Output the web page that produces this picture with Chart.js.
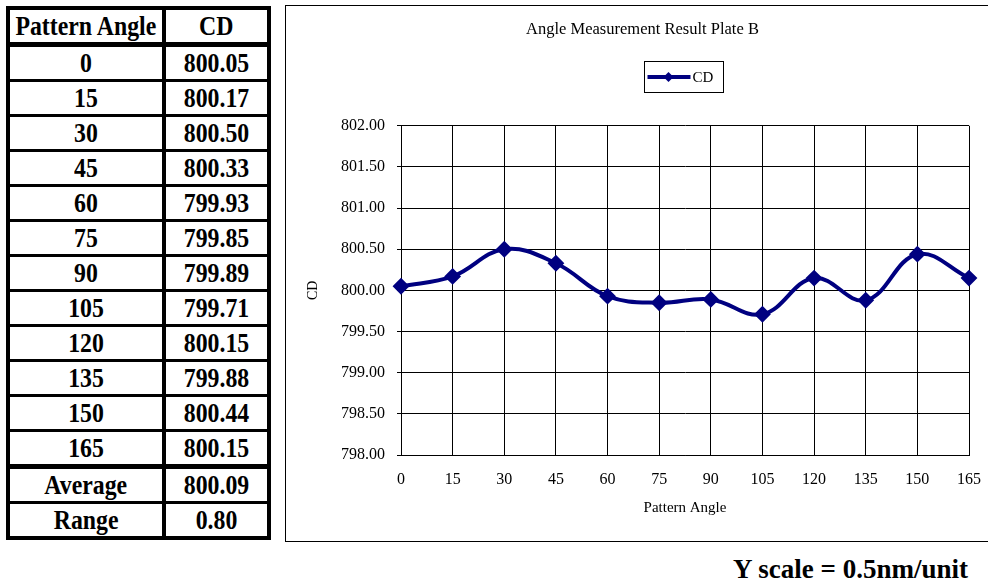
<!DOCTYPE html>
<html>
<head>
<meta charset="utf-8">
<script src="https://cdn.jsdelivr.net/npm/chart.js@4"></script>
<style>
  html, body { margin:0; padding:0; background:#fff; }
  body { width:988px; height:582px; overflow:hidden; position:relative; font-family:'Liberation Serif', 'Times New Roman', serif; }
  #tbl { position:absolute; left:6px; top:6px; border-collapse:collapse; border:4px solid #000; }
  #tbl td { border:3px solid #000; padding:0; height:32px; text-align:center; white-space:nowrap;
            font-family:'Liberation Serif', serif; font-weight:bold; font-size:28px; line-height:30px; }
  #tbl td.c1 { width:152px; border-right:4px solid #000; }
  #tbl td.c2 { width:101px; }
  #tbl tr.thick td { border-bottom:5px solid #000; }
  #tbl span { display:inline-block; transform:scaleX(0.85); margin:0 -16px; }
  #box { position:absolute; left:285px; top:5px; width:720px; height:535px; border:1px solid #000; }
  #wrap { position:absolute; left:286px; top:6px; width:714px; height:534px; }
  #note { position:absolute; right:20px; top:554px; font-family:'Liberation Serif', serif; font-weight:bold; font-size:27px; }
</style>
</head>
<body>
<table id="tbl"></table>
<div id="box"></div>
<div id="wrap"><canvas id="c"></canvas></div>
<div id="note">Y scale = 0.5nm/unit</div>
<script>
// data
const angles = [0, 15, 30, 45, 60, 75, 90, 105, 120, 135, 150, 165];
const cdValues = [800.05, 800.17, 800.50, 800.33, 799.93, 799.85, 799.89, 799.71, 800.15, 799.88, 800.44, 800.15];
const averageText = '800.09';
const rangeText = '0.80';
const yMin = 798, yMax = 802, yStep = 0.5;

// table on the left
const rows = [['Pattern Angle', 'CD', true]]
  .concat(angles.map((a, i) => [String(a), cdValues[i].toFixed(2), i === angles.length - 1]))
  .concat([['Average', averageText, false], ['Range', rangeText, false]]);
document.getElementById('tbl').innerHTML = rows.map(r =>
  `<tr${r[2] ? ' class="thick"' : ''}><td class="c1"><span>${r[0]}</span></td><td class="c2"><span>${r[1]}</span></td></tr>`
).join('');

const navy = '#000080';

// boxed legend above the plot: line + diamond, then label
const boxedLegend = {
  id: 'boxedLegend',
  afterDraw(chart) {
    const ctx = chart.ctx, a = chart.chartArea;
    const bw = 79, bh = 31;
    const x = Math.round((a.left + a.right) / 2 - 2 - bw / 2) + 0.5, y = 55.5;
    const cy = y + bh / 2;
    ctx.save();
    ctx.strokeStyle = '#000'; ctx.lineWidth = 1;
    ctx.strokeRect(x, y, bw, bh);
    ctx.strokeStyle = navy; ctx.lineWidth = 4;
    ctx.beginPath(); ctx.moveTo(x + 3, cy); ctx.lineTo(x + 46, cy); ctx.stroke();
    ctx.fillStyle = navy;
    const dx = x + 24;
    ctx.beginPath(); ctx.moveTo(dx, cy - 5); ctx.lineTo(dx + 5, cy); ctx.lineTo(dx, cy + 5); ctx.lineTo(dx - 5, cy); ctx.closePath(); ctx.fill();
    ctx.fillStyle = '#000';
    ctx.font = "15px 'Liberation Serif', serif";
    ctx.textBaseline = 'middle';
    ctx.fillText(chart.data.datasets[0].label, x + 48, cy + 1);
    ctx.restore();
  }
};

Chart.defaults.font.family = "'Liberation Serif', serif";
Chart.defaults.color = '#000';

new Chart(document.getElementById('c'), {
  type: 'line',
  data: {
    labels: angles.map(String),
    datasets: [{
      label: 'CD',
      data: cdValues,
      borderColor: navy,
      backgroundColor: navy,
      borderWidth: 4,
      tension: 0.4,
      pointStyle: 'rectRot',
      pointRadius: 7,
      pointBorderWidth: 2,
      pointBackgroundColor: navy,
      pointBorderColor: navy,
      clip: false
    }]
  },
  options: {
    responsive: true,
    maintainAspectRatio: false,
    animation: false,
    layout: { padding: { left: 30, right: 31, top: 0, bottom: 0 } },
    plugins: {
      tooltip: { enabled: false },
      legend: { display: false },
      title: {
        display: true,
        text: 'Angle Measurement Result Plate B',
        font: { size: 16.5, weight: 'normal' },
        color: '#000',
        padding: { top: 14, bottom: 86 }
      }
    },
    scales: {
      x: {
        offset: false,
        grid: { color: '#000', drawTicks: false, offset: false },
        border: { color: '#000' },
        ticks: { padding: 15, font: { size: 16 }, maxRotation: 0, autoSkip: false },
        title: { display: true, text: 'Pattern Angle', font: { size: 15 }, padding: { top: 0, bottom: 23 } },
        afterFit: s => { s.height = 85; }
      },
      y: {
        min: yMin, max: yMax,
        grid: { color: '#000', tickLength: 4 },
        border: { color: '#000' },
        ticks: { stepSize: yStep, padding: 12, font: { size: 16 }, callback: v => v.toFixed(2) },
        // negative padding pulls the rotated title out into the layout padding
        title: { display: true, text: 'CD', font: { size: 14 }, padding: { top: -11, bottom: 0 } },
        afterFit: s => { s.width = 85; }
      }
    }
  },
  plugins: [boxedLegend]
});
</script>
</body>
</html>
